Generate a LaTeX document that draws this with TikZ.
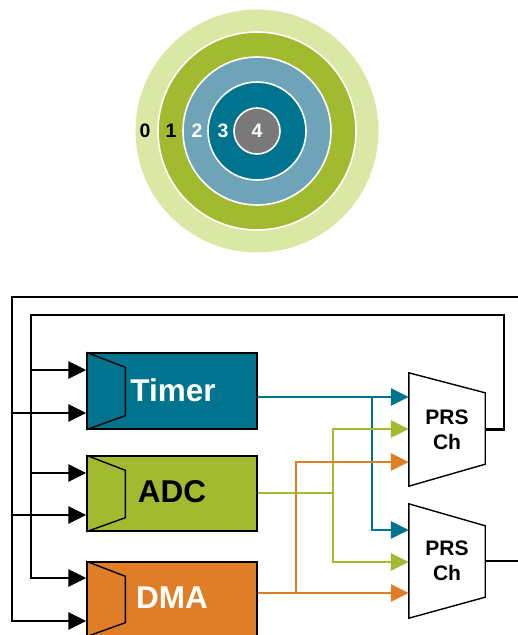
\documentclass[tikz,border=0pt]{standalone}
\usepackage{fontspec}
\setmainfont{Liberation Sans}
\usetikzlibrary{arrows.meta,calc}
\definecolor{lgreen}{HTML}{DBE7A5}
\definecolor{dgreen}{HTML}{A2BA30}
\definecolor{lblue}{HTML}{6FA4B8}
\definecolor{teal}{HTML}{00738F}
\definecolor{gry}{HTML}{7A7878}
\definecolor{orng}{HTML}{E07E28}
\begin{document}
\begin{tikzpicture}[x=1pt,y=-1pt,
  ring/.style={circle, draw=white, line width=1.6pt, inner sep=0pt},
  num/.style={font=\bfseries\fontsize{19.5}{19.5}\selectfont, inner sep=0pt},
  blk/.style={rectangle, draw=black, line width=1.4pt, minimum width=170pt, inner sep=0pt},
  notch/.style={draw=black, line width=1.4pt},
  lbl/.style={font=\bfseries\fontsize{31.5}{31.5}\selectfont, inner sep=0pt},
  prsbox/.style={rectangle, minimum width=76pt, inner sep=0pt},
  prsshape/.style={draw=black, fill=white, line width=1.4pt, line join=miter},
  prslbl/.style={font=\bfseries\fontsize{21}{25}\selectfont, align=center, inner sep=0pt},
  bl/.style={draw=black, line width=2.9pt},
  bla/.style={bl, -{Triangle[length=18pt,width=17pt]}},
  cl/.style={line width=2.7pt, -{Triangle[length=18pt,width=17pt]}},
]
\useasboundingbox (0,0) rectangle (518,635);
\clip (0,0) rectangle (518,635);

% rings
\node[ring, draw=none, fill=lgreen, minimum size=243pt] (r0) at (257,131) {};
\node[ring, fill=dgreen, minimum size=198pt] (r1) at (257,131) {};
\node[ring, fill=lblue, minimum size=148pt] (r2) at (257,131) {};
\node[ring, fill=teal, minimum size=98pt] (r3) at (257,131) {};
\node[ring, fill=gry, minimum size=46pt] (r4) at (257,131) {};
\node[num] (l0) at (145,131) {0};
\node[num] (l1) at (171,131) {1};
\node[num, text=white] (l2) at (197,131) {2};
\node[num, text=white] (l3) at (223,131) {3};
\node[num, text=white] (l4) at (257,131) {4};

% blocks
\node[blk, fill=teal, minimum height=76pt] (timer) at (172,391) {};
\node[blk, fill=dgreen, minimum height=75pt] (adc) at (172,493.5) {};
\node[blk, fill=orng, minimum height=74pt] (dma) at (172,599) {};
\foreach \b in {timer,adc,dma}{
  \draw[notch] (\b.north west) -- ++(39,15) -- ($(\b.south west)+(39,-14)$) -- (\b.south west);
}
\node[lbl, text=white] (tt) at (173,390) {Timer};
\node[lbl] (at) at (172,492) {ADC};
\node[lbl, text=white] (dt) at (172,598) {DMA};

% PRS channels
\node[prsbox, minimum height=113pt] (prs1) at (447,429.5) {};
\node[prsbox, minimum height=114pt] (prs2) at (447,561) {};
\draw[prsshape] (prs1.north west) -- ($(prs1.north east)+(0,20)$) -- ($(prs1.south east)+(0,-22)$) -- (prs1.south west) -- cycle;
\draw[prsshape] (prs2.north west) -- ($(prs2.north east)+(0,22)$) -- ($(prs2.south east)+(0,-21)$) -- (prs2.south west) -- cycle;
\node[prslbl] (p1t) at (prs1) {PRS\\Ch};
\node[prslbl] (p2t) at (prs2) {PRS\\Ch};

% black buses
\draw[bla] (530,297) -- (12,297) -- (12,621) -- (dma.west |- 0,621);
\draw[bla] (12,413) -- (timer.west |- 0,413);
\draw[bla] (12,515) -- (adc.west |- 0,515);
\draw[bla] (prs1.east) -- (504,429.5) -- (504,315) -- (31,315) -- (31,578) -- (dma.west |- 0,578);
\draw[bla] (31,370) -- (timer.west |- 0,370);
\draw[bla] (31,473) -- (adc.west |- 0,473);
\draw[bl] (prs2.east) -- (530,561);

% coloured connectors
\draw[cl, teal] (timer.east |- 0,397) -- (prs1.west |- 0,397);
\draw[cl, teal] (372,397) -- (372,530) -- (prs2.west |- 0,530);
\draw[cl, dgreen] (adc.east |- 0,493) -- (333,493) -- (333,429) -- (prs1.west |- 0,429);
\draw[cl, dgreen] (333,493) -- (333,562) -- (prs2.west |- 0,562);
\draw[cl, orng] (dma.east |- 0,593) -- (prs2.west |- 0,593);
\draw[cl, orng] (296,593) -- (296,462) -- (prs1.west |- 0,462);
\end{tikzpicture}
\end{document}
